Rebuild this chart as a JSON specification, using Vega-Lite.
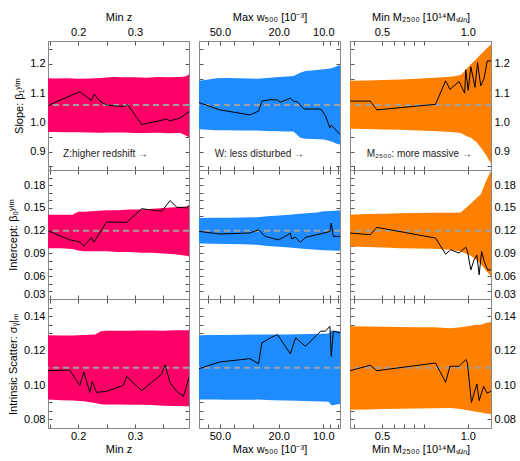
{
"$schema": "https://vega.github.io/schema/vega-lite/v6.json",
"padding": {"left": 7, "top": 10, "right": 2, "bottom": 2},
"background": "white",
"config": {
  "font": "Liberation Sans",
  "view": {"stroke": "#888", "strokeWidth": 1},
  "axis": {"domainColor": "#888", "tickColor": "#555", "tickSize": -4, "labelPadding": 7, "labelFontSize": 11, "titleFontSize": 11, "titleFontWeight": "normal", "labelColor": "#000", "titleColor": "#000", "grid": false, "labelOverlap": false, "labelFlush": false, "titlePadding": 2},
  "axisY": {"titlePadding": 5},
  "axisTop": {"labelPadding": 8, "titlePadding": 4},
  "axisBottom": {"labelPadding": 6, "titlePadding": 2}
},
"datasets": {
"b11": [{"x":0.147,"lo":0.968,"hi":1.151},{"x":0.16,"lo":0.968,"hi":1.15},{"x":0.18,"lo":0.967,"hi":1.151},{"x":0.2,"lo":0.967,"hi":1.149},{"x":0.22,"lo":0.966,"hi":1.15},{"x":0.24,"lo":0.965,"hi":1.152},{"x":0.26,"lo":0.966,"hi":1.155},{"x":0.28,"lo":0.966,"hi":1.154},{"x":0.3,"lo":0.964,"hi":1.154},{"x":0.32,"lo":0.964,"hi":1.153},{"x":0.34,"lo":0.965,"hi":1.155},{"x":0.36,"lo":0.963,"hi":1.154},{"x":0.38,"lo":0.964,"hi":1.155},{"x":0.39,"lo":0.955,"hi":1.158},{"x":0.395,"lo":0.95,"hi":1.165}],
"l11": [{"x":0.147,"y":1.058},{"x":0.203,"y":1.105},{"x":0.2235,"y":1.075},{"x":0.228,"y":1.097},{"x":0.238,"y":1.073},{"x":0.25,"y":1.06},{"x":0.2675,"y":1.056},{"x":0.282,"y":1.055},{"x":0.287,"y":1.061},{"x":0.312,"y":0.993},{"x":0.35,"y":1.009},{"x":0.354,"y":1.012},{"x":0.362,"y":1.006},{"x":0.379,"y":1.015},{"x":0.395,"y":1.037}],
"b21": [{"x":0.147,"lo":0.097,"hi":0.141},{"x":0.17,"lo":0.097,"hi":0.141},{"x":0.19,"lo":0.096,"hi":0.141},{"x":0.2,"lo":0.094,"hi":0.145},{"x":0.21,"lo":0.093,"hi":0.145},{"x":0.23,"lo":0.093,"hi":0.146},{"x":0.25,"lo":0.093,"hi":0.147},{"x":0.27,"lo":0.092,"hi":0.147},{"x":0.29,"lo":0.092,"hi":0.148},{"x":0.31,"lo":0.091,"hi":0.148},{"x":0.33,"lo":0.091,"hi":0.149},{"x":0.35,"lo":0.09,"hi":0.15},{"x":0.37,"lo":0.089,"hi":0.151},{"x":0.39,"lo":0.087,"hi":0.152},{"x":0.395,"lo":0.086,"hi":0.153}],
"l21": [{"x":0.147,"y":0.12},{"x":0.1853,"y":0.108},{"x":0.203,"y":0.105},{"x":0.21,"y":0.1},{"x":0.2235,"y":0.111},{"x":0.2276,"y":0.1046},{"x":0.25,"y":0.1315},{"x":0.2853,"y":0.131},{"x":0.3118,"y":0.149},{"x":0.347,"y":0.1456},{"x":0.3618,"y":0.1597},{"x":0.3735,"y":0.151},{"x":0.391,"y":0.15},{"x":0.395,"y":0.1535}],
"b31": [{"x":0.147,"lo":0.0915,"hi":0.1289},{"x":0.17,"lo":0.0912,"hi":0.1288},{"x":0.19,"lo":0.091,"hi":0.1288},{"x":0.21,"lo":0.0905,"hi":0.129},{"x":0.23,"lo":0.0895,"hi":0.1293},{"x":0.24,"lo":0.0888,"hi":0.1312},{"x":0.25,"lo":0.0887,"hi":0.1315},{"x":0.27,"lo":0.0887,"hi":0.1316},{"x":0.29,"lo":0.0885,"hi":0.1315},{"x":0.31,"lo":0.0885,"hi":0.1317},{"x":0.33,"lo":0.0883,"hi":0.1317},{"x":0.35,"lo":0.088,"hi":0.1316},{"x":0.37,"lo":0.0878,"hi":0.1318},{"x":0.39,"lo":0.0876,"hi":0.1319},{"x":0.395,"lo":0.0876,"hi":0.1318}],
"l31": [{"x":0.147,"y":0.1083},{"x":0.1853,"y":0.1087},{"x":0.203,"y":0.0998},{"x":0.21,"y":0.1076},{"x":0.2206,"y":0.0957},{"x":0.2247,"y":0.1021},{"x":0.2324,"y":0.0957},{"x":0.25,"y":0.0963},{"x":0.2794,"y":0.0998},{"x":0.2853,"y":0.1049},{"x":0.3118,"y":0.0967},{"x":0.347,"y":0.1064},{"x":0.3529,"y":0.1118},{"x":0.3618,"y":0.1012},{"x":0.3735,"y":0.0963},{"x":0.3853,"y":0.0934},{"x":0.395,"y":0.1045}],
"b12": [{"x":69.2,"lo":0.977,"hi":1.142},{"x":60,"lo":0.975,"hi":1.147},{"x":52.7,"lo":0.974,"hi":1.151},{"x":45,"lo":0.974,"hi":1.152},{"x":38,"lo":0.973,"hi":1.151},{"x":32,"lo":0.973,"hi":1.15},{"x":28.1,"lo":0.973,"hi":1.149},{"x":24,"lo":0.971,"hi":1.152},{"x":20,"lo":0.97,"hi":1.155},{"x":17.5,"lo":0.969,"hi":1.157},{"x":15.9,"lo":0.969,"hi":1.159},{"x":14.3,"lo":0.948,"hi":1.17},{"x":13.2,"lo":0.945,"hi":1.176},{"x":11.5,"lo":0.944,"hi":1.178},{"x":9.9,"lo":0.942,"hi":1.182},{"x":8.8,"lo":0.935,"hi":1.185},{"x":8.03,"lo":0.927,"hi":1.193},{"x":7.71,"lo":0.925,"hi":1.195}],
"l12": [{"x":69.2,"y":1.068},{"x":50,"y":1.043},{"x":31.3,"y":1.026},{"x":27.4,"y":1.039},{"x":26.0,"y":1.073},{"x":22.8,"y":1.078},{"x":20.4,"y":1.077},{"x":19.5,"y":1.069},{"x":16.7,"y":1.083},{"x":15.9,"y":1.073},{"x":15.0,"y":1.071},{"x":13.5,"y":1.046},{"x":10.4,"y":1.046},{"x":9.66,"y":1.022},{"x":9.02,"y":0.982},{"x":8.83,"y":0.991},{"x":7.71,"y":0.959}],
"b22": [{"x":69.2,"lo":0.1032,"hi":0.1368},{"x":55,"lo":0.1028,"hi":0.137},{"x":45,"lo":0.1025,"hi":0.1372},{"x":35,"lo":0.102,"hi":0.1374},{"x":28,"lo":0.1015,"hi":0.1376},{"x":24,"lo":0.1,"hi":0.139},{"x":20,"lo":0.099,"hi":0.14},{"x":17,"lo":0.098,"hi":0.141},{"x":15,"lo":0.097,"hi":0.142},{"x":13,"lo":0.096,"hi":0.143},{"x":11,"lo":0.095,"hi":0.144},{"x":9.9,"lo":0.0944,"hi":0.1456},{"x":8.8,"lo":0.094,"hi":0.146},{"x":8.0,"lo":0.0935,"hi":0.1465},{"x":7.71,"lo":0.0935,"hi":0.1465}],
"l22": [{"x":69.2,"y":0.1191},{"x":50,"y":0.1156},{"x":31.3,"y":0.117},{"x":27.4,"y":0.1213},{"x":24.7,"y":0.1125},{"x":20.1,"y":0.108},{"x":17.6,"y":0.1138},{"x":16.7,"y":0.117},{"x":16.4,"y":0.1094},{"x":15.4,"y":0.1112},{"x":14.3,"y":0.1046},{"x":13.2,"y":0.1112},{"x":9.9,"y":0.117},{"x":9.02,"y":0.119},{"x":8.83,"y":0.13},{"x":8.56,"y":0.1125},{"x":7.71,"y":0.1125}],
"b32": [{"x":69.2,"lo":0.0915,"hi":0.1289},{"x":55,"lo":0.0915,"hi":0.129},{"x":45,"lo":0.0914,"hi":0.1291},{"x":35,"lo":0.0914,"hi":0.1292},{"x":28,"lo":0.0915,"hi":0.1293},{"x":22,"lo":0.0912,"hi":0.1293},{"x":18,"lo":0.091,"hi":0.1294},{"x":15,"lo":0.0909,"hi":0.1295},{"x":12,"lo":0.0906,"hi":0.1296},{"x":10,"lo":0.0904,"hi":0.1298},{"x":9.2,"lo":0.0902,"hi":0.13},{"x":8.8,"lo":0.0882,"hi":0.1317},{"x":8.5,"lo":0.0884,"hi":0.1316},{"x":8.0,"lo":0.0888,"hi":0.1314},{"x":7.71,"lo":0.0889,"hi":0.1313}],
"l32": [{"x":69.2,"y":0.1095},{"x":50,"y":0.1134},{"x":31.3,"y":0.1153},{"x":27.4,"y":0.1124},{"x":26.0,"y":0.1245},{"x":22.8,"y":0.1274},{"x":20.4,"y":0.1293},{"x":16.7,"y":0.1181},{"x":15.4,"y":0.1274},{"x":13.2,"y":0.1225},{"x":10.4,"y":0.1313},{"x":9.66,"y":0.1313},{"x":9.02,"y":0.1342},{"x":8.83,"y":0.1167},{"x":8.56,"y":0.1313},{"x":7.71,"y":0.1303}],
"b13": [{"x":0.3865,"lo":0.979,"hi":1.142},{"x":0.443,"lo":0.978,"hi":1.143},{"x":0.507,"lo":0.9765,"hi":1.145},{"x":0.58,"lo":0.975,"hi":1.147},{"x":0.665,"lo":0.973,"hi":1.149},{"x":0.76,"lo":0.971,"hi":1.153},{"x":0.871,"lo":0.968,"hi":1.156},{"x":0.945,"lo":0.964,"hi":1.162},{"x":0.984,"lo":0.955,"hi":1.18},{"x":1.025,"lo":0.948,"hi":1.199},{"x":1.067,"lo":0.935,"hi":1.215},{"x":1.111,"lo":0.915,"hi":1.233},{"x":1.157,"lo":0.89,"hi":1.25},{"x":1.206,"lo":0.86,"hi":1.267}],
"l13": [{"x":0.3865,"y":1.073},{"x":0.455,"y":1.073},{"x":0.48,"y":1.043},{"x":0.771,"y":1.062},{"x":0.836,"y":1.142},{"x":0.866,"y":1.113},{"x":0.932,"y":1.14},{"x":0.975,"y":1.1},{"x":0.984,"y":1.18},{"x":1.003,"y":1.11},{"x":1.025,"y":1.19},{"x":1.06,"y":1.12},{"x":1.082,"y":1.205},{"x":1.11,"y":1.125},{"x":1.14,"y":1.15},{"x":1.17,"y":1.21},{"x":1.206,"y":1.21}],
"b23": [{"x":0.3865,"lo":0.0993,"hi":0.141},{"x":0.443,"lo":0.0985,"hi":0.142},{"x":0.507,"lo":0.0978,"hi":0.1425},{"x":0.58,"lo":0.097,"hi":0.143},{"x":0.665,"lo":0.0965,"hi":0.1434},{"x":0.76,"lo":0.0962,"hi":0.1436},{"x":0.871,"lo":0.095,"hi":0.1438},{"x":0.945,"lo":0.0927,"hi":0.144},{"x":0.984,"lo":0.09,"hi":0.15},{"x":1.025,"lo":0.087,"hi":0.156},{"x":1.067,"lo":0.082,"hi":0.162},{"x":1.111,"lo":0.076,"hi":0.168},{"x":1.157,"lo":0.068,"hi":0.185},{"x":1.206,"lo":0.06,"hi":0.199}],
"l23": [{"x":0.3865,"y":0.1169},{"x":0.455,"y":0.1147},{"x":0.48,"y":0.1244},{"x":0.771,"y":0.1103},{"x":0.836,"y":0.0891},{"x":0.871,"y":0.0949},{"x":0.932,"y":0.0905},{"x":0.984,"y":0.0984},{"x":0.997,"y":0.093},{"x":1.025,"y":0.0684},{"x":1.052,"y":0.0816},{"x":1.076,"y":0.088},{"x":1.096,"y":0.0618},{"x":1.118,"y":0.0927},{"x":1.142,"y":0.0794},{"x":1.173,"y":0.0684},{"x":1.206,"y":0.0684}],
"b33": [{"x":0.3865,"lo":0.0856,"hi":0.1342},{"x":0.443,"lo":0.0858,"hi":0.134},{"x":0.507,"lo":0.086,"hi":0.1338},{"x":0.58,"lo":0.0862,"hi":0.1337},{"x":0.665,"lo":0.0864,"hi":0.1336},{"x":0.76,"lo":0.0865,"hi":0.1336},{"x":0.871,"lo":0.0866,"hi":0.133},{"x":0.945,"lo":0.086,"hi":0.1336},{"x":0.984,"lo":0.0855,"hi":0.134},{"x":1.025,"lo":0.085,"hi":0.1345},{"x":1.067,"lo":0.0845,"hi":0.135},{"x":1.111,"lo":0.084,"hi":0.1351},{"x":1.157,"lo":0.0835,"hi":0.136},{"x":1.206,"lo":0.0831,"hi":0.1367}],
"l33": [{"x":0.3865,"y":0.1083},{"x":0.455,"y":0.1115},{"x":0.48,"y":0.1083},{"x":0.771,"y":0.1128},{"x":0.836,"y":0.1016},{"x":0.866,"y":0.1109},{"x":0.932,"y":0.1109},{"x":0.984,"y":0.1148},{"x":0.997,"y":0.1128},{"x":1.03,"y":0.0899},{"x":1.076,"y":0.1006},{"x":1.096,"y":0.0909},{"x":1.136,"y":0.0992},{"x":1.167,"y":0.0953},{"x":1.206,"y":0.0963}]
},
"columns": 3,
"spacing": {"row": 0, "column": 10},
"bounds": "flush",
"concat": [
{
 "width": 141, "height": 129,
 "resolve": {"axis": {"x": "independent", "y": "independent"}},
 "layer": [
  {"data": {"name": "b11"}, "mark": {"type": "area", "color": "#FF0066", "opacity": 1, "clip": true},
   "encoding": {"x": {"field": "x", "type": "quantitative", "scale": {"domain": [0.147, 0.395], "nice": false, "zero": false}, "axis": {"orient": "bottom", "values": [0.15, 0.2, 0.25, 0.3, 0.35], "labels": false, "title": null}},
    "y": {"field": "lo", "type": "quantitative", "scale": {"domain": [0.838, 1.278], "nice": false, "zero": false}, "axis": {"orient": "left", "values": [0.85, 0.9, 0.95, 1, 1.05, 1.1, 1.15, 1.2, 1.25], "labelExpr": "abs(datum.value*10 - round(datum.value*10)) < 0.001 ? format(datum.value, '.1f') : ''", "title": "Slope: β₁ʸˡᵐ"}},
    "y2": {"field": "hi"}}},
  {"data": {"values": [{}]}, "mark": {"type": "rule", "color": "#A0A0A0", "strokeWidth": 2, "strokeDash": [6, 4]},
   "encoding": {"y": {"datum": 1.06, "type": "quantitative", "scale": {"domain": [0.838, 1.278], "nice": false, "zero": false}, "axis": null}}},
  {"data": {"name": "l11"}, "mark": {"type": "line", "color": "#000", "strokeWidth": 1, "clip": true},
   "encoding": {"x": {"field": "x", "type": "quantitative", "scale": {"domain": [0.147, 0.395], "nice": false, "zero": false}, "axis": {"orient": "top", "values": [0.15, 0.2, 0.25, 0.3, 0.35], "labelExpr": "datum.value == 0.2 || datum.value == 0.3 ? format(datum.value, '.1f') : ''", "title": "Min z"}},
    "y": {"field": "y", "type": "quantitative", "scale": {"domain": [0.838, 1.278], "nice": false, "zero": false}, "axis": {"orient": "right", "values": [0.85, 0.9, 0.95, 1, 1.05, 1.1, 1.15, 1.2, 1.25], "labels": false, "title": null}}}},
  {"data": {"values": [{}]}, "mark": {"type": "text", "text": "Z:higher redshift →", "align": "left", "baseline": "middle", "fontSize": 10, "color": "#222"},
   "encoding": {"x": {"datum": 0.1735, "type": "quantitative", "scale": {"domain": [0.147, 0.395], "nice": false, "zero": false}, "axis": null},
    "y": {"datum": 0.893, "type": "quantitative", "scale": {"domain": [0.838, 1.278], "nice": false, "zero": false}, "axis": null}}}
 ]
},
{
 "width": 141, "height": 129,
 "resolve": {"axis": {"x": "independent", "y": "independent"}},
 "layer": [
  {"data": {"name": "b12"}, "mark": {"type": "area", "color": "#1E8CFF", "opacity": 1, "clip": true},
   "encoding": {"x": {"field": "x", "type": "quantitative", "scale": {"type": "log", "domain": [7.71, 69.2], "reverse": true, "nice": false}, "axis": {"orient": "bottom", "values": [60, 50, 40, 30, 20, 10, 9, 8], "labels": false, "title": null}},
    "y": {"field": "lo", "type": "quantitative", "scale": {"domain": [0.838, 1.278], "nice": false, "zero": false}, "axis": {"orient": "left", "values": [0.85, 0.9, 0.95, 1, 1.05, 1.1, 1.15, 1.2, 1.25], "labels": false, "title": null}},
    "y2": {"field": "hi"}}},
  {"data": {"values": [{}]}, "mark": {"type": "rule", "color": "#A0A0A0", "strokeWidth": 2, "strokeDash": [6, 4]},
   "encoding": {"y": {"datum": 1.06, "type": "quantitative", "scale": {"domain": [0.838, 1.278], "nice": false, "zero": false}, "axis": null}}},
  {"data": {"name": "l12"}, "mark": {"type": "line", "color": "#000", "strokeWidth": 1, "clip": true},
   "encoding": {"x": {"field": "x", "type": "quantitative", "scale": {"type": "log", "domain": [7.71, 69.2], "reverse": true, "nice": false}, "axis": {"orient": "top", "values": [60, 50, 40, 30, 20, 10, 9, 8], "labelExpr": "datum.value == 50 || datum.value == 20 || datum.value == 10 ? format(datum.value, '.1f') : ''", "title": "Max w₅₀₀ [10⁻³]"}},
    "y": {"field": "y", "type": "quantitative", "scale": {"domain": [0.838, 1.278], "nice": false, "zero": false}, "axis": {"orient": "right", "values": [0.85, 0.9, 0.95, 1, 1.05, 1.1, 1.15, 1.2, 1.25], "labels": false, "title": null}}}},
  {"data": {"values": [{}]}, "mark": {"type": "text", "text": "W: less disturbed →", "align": "left", "baseline": "middle", "fontSize": 10, "color": "#222"},
   "encoding": {"x": {"datum": 54.1, "type": "quantitative", "scale": {"type": "log", "domain": [7.71, 69.2], "reverse": true, "nice": false}, "axis": null},
    "y": {"datum": 0.893, "type": "quantitative", "scale": {"domain": [0.838, 1.278], "nice": false, "zero": false}, "axis": null}}}
 ]
},
{
 "width": 141, "height": 129,
 "resolve": {"axis": {"x": "independent", "y": "independent"}},
 "layer": [
  {"data": {"name": "b13"}, "mark": {"type": "area", "color": "#FF8000", "opacity": 1, "clip": true},
   "encoding": {"x": {"field": "x", "type": "quantitative", "scale": {"type": "log", "domain": [0.3865, 1.206], "nice": false}, "axis": {"orient": "bottom", "values": [0.4, 0.5, 0.55, 0.6, 0.65, 0.7, 1], "labels": false, "title": null}},
    "y": {"field": "lo", "type": "quantitative", "scale": {"domain": [0.838, 1.278], "nice": false, "zero": false}, "axis": {"orient": "left", "values": [0.85, 0.9, 0.95, 1, 1.05, 1.1, 1.15, 1.2, 1.25], "labels": false, "title": null}},
    "y2": {"field": "hi"}}},
  {"data": {"values": [{}]}, "mark": {"type": "rule", "color": "#A0A0A0", "strokeWidth": 2, "strokeDash": [6, 4]},
   "encoding": {"y": {"datum": 1.06, "type": "quantitative", "scale": {"domain": [0.838, 1.278], "nice": false, "zero": false}, "axis": null}}},
  {"data": {"name": "l13"}, "mark": {"type": "line", "color": "#000", "strokeWidth": 1, "clip": true},
   "encoding": {"x": {"field": "x", "type": "quantitative", "scale": {"type": "log", "domain": [0.3865, 1.206], "nice": false}, "axis": {"orient": "top", "values": [0.4, 0.5, 0.55, 0.6, 0.65, 0.7, 1], "labelExpr": "datum.value == 0.5 || datum.value == 1 ? format(datum.value, '.1f') : ''", "title": "Min M₂₅₀₀ [10¹⁴Mₛᵤₙ]"}},
    "y": {"field": "y", "type": "quantitative", "scale": {"domain": [0.838, 1.278], "nice": false, "zero": false}, "axis": {"orient": "right", "values": [0.85, 0.9, 0.95, 1, 1.05, 1.1, 1.15, 1.2, 1.25], "labelExpr": "abs(datum.value*10 - round(datum.value*10)) < 0.001 ? format(datum.value, '.1f') : ''", "title": null}}}},
  {"data": {"values": [{}]}, "mark": {"type": "text", "text": "M₂₅₀₀: more massive →", "align": "left", "baseline": "middle", "fontSize": 10, "color": "#222"},
   "encoding": {"x": {"datum": 0.4426, "type": "quantitative", "scale": {"type": "log", "domain": [0.3865, 1.206], "nice": false}, "axis": null},
    "y": {"datum": 0.893, "type": "quantitative", "scale": {"domain": [0.838, 1.278], "nice": false, "zero": false}, "axis": null}}}
 ]
},
{
 "width": 141, "height": 129,
 "resolve": {"axis": {"x": "independent", "y": "independent"}},
 "layer": [
  {"data": {"name": "b21"}, "mark": {"type": "area", "color": "#FF0066", "opacity": 1, "clip": true},
   "encoding": {"x": {"field": "x", "type": "quantitative", "scale": {"domain": [0.147, 0.395], "nice": false, "zero": false}, "axis": {"orient": "bottom", "values": [0.15, 0.2, 0.25, 0.3, 0.35], "labels": false, "title": null}},
    "y": {"field": "lo", "type": "quantitative", "scale": {"domain": [0.03, 0.2], "nice": false, "zero": false}, "axis": {"orient": "left", "values": [0.03, 0.04, 0.05, 0.06, 0.07, 0.08, 0.09, 0.1, 0.11, 0.12, 0.13, 0.14, 0.15, 0.16, 0.17, 0.18, 0.19], "labelFlush": true, "labelExpr": "abs(datum.value*100/3 - round(datum.value*100/3)) < 0.001 ? format(datum.value, '.2f') : ''", "title": "Intercept: β₀ʸˡᵐ"}},
    "y2": {"field": "hi"}}},
  {"data": {"values": [{}]}, "mark": {"type": "rule", "color": "#A0A0A0", "strokeWidth": 2, "strokeDash": [6, 4]},
   "encoding": {"y": {"datum": 0.12, "type": "quantitative", "scale": {"domain": [0.03, 0.2], "nice": false, "zero": false}, "axis": null}}},
  {"data": {"name": "l21"}, "mark": {"type": "line", "color": "#000", "strokeWidth": 1, "clip": true},
   "encoding": {"x": {"field": "x", "type": "quantitative", "scale": {"domain": [0.147, 0.395], "nice": false, "zero": false}, "axis": {"orient": "top", "values": [0.15, 0.2, 0.25, 0.3, 0.35], "labels": false, "title": null}},
    "y": {"field": "y", "type": "quantitative", "scale": {"domain": [0.03, 0.2], "nice": false, "zero": false}, "axis": {"orient": "right", "values": [0.03, 0.04, 0.05, 0.06, 0.07, 0.08, 0.09, 0.1, 0.11, 0.12, 0.13, 0.14, 0.15, 0.16, 0.17, 0.18, 0.19], "labels": false, "title": null}}}}
 ]
},
{
 "width": 141, "height": 129,
 "resolve": {"axis": {"x": "independent", "y": "independent"}},
 "layer": [
  {"data": {"name": "b22"}, "mark": {"type": "area", "color": "#1E8CFF", "opacity": 1, "clip": true},
   "encoding": {"x": {"field": "x", "type": "quantitative", "scale": {"type": "log", "domain": [7.71, 69.2], "reverse": true, "nice": false}, "axis": {"orient": "bottom", "values": [60, 50, 40, 30, 20, 10, 9, 8], "labels": false, "title": null}},
    "y": {"field": "lo", "type": "quantitative", "scale": {"domain": [0.03, 0.2], "nice": false, "zero": false}, "axis": {"orient": "left", "values": [0.03, 0.04, 0.05, 0.06, 0.07, 0.08, 0.09, 0.1, 0.11, 0.12, 0.13, 0.14, 0.15, 0.16, 0.17, 0.18, 0.19], "labels": false, "title": null}},
    "y2": {"field": "hi"}}},
  {"data": {"values": [{}]}, "mark": {"type": "rule", "color": "#A0A0A0", "strokeWidth": 2, "strokeDash": [6, 4]},
   "encoding": {"y": {"datum": 0.12, "type": "quantitative", "scale": {"domain": [0.03, 0.2], "nice": false, "zero": false}, "axis": null}}},
  {"data": {"name": "l22"}, "mark": {"type": "line", "color": "#000", "strokeWidth": 1, "clip": true},
   "encoding": {"x": {"field": "x", "type": "quantitative", "scale": {"type": "log", "domain": [7.71, 69.2], "reverse": true, "nice": false}, "axis": {"orient": "top", "values": [60, 50, 40, 30, 20, 10, 9, 8], "labels": false, "title": null}},
    "y": {"field": "y", "type": "quantitative", "scale": {"domain": [0.03, 0.2], "nice": false, "zero": false}, "axis": {"orient": "right", "values": [0.03, 0.04, 0.05, 0.06, 0.07, 0.08, 0.09, 0.1, 0.11, 0.12, 0.13, 0.14, 0.15, 0.16, 0.17, 0.18, 0.19], "labels": false, "title": null}}}}
 ]
},
{
 "width": 141, "height": 129,
 "resolve": {"axis": {"x": "independent", "y": "independent"}},
 "layer": [
  {"data": {"name": "b23"}, "mark": {"type": "area", "color": "#FF8000", "opacity": 1, "clip": true},
   "encoding": {"x": {"field": "x", "type": "quantitative", "scale": {"type": "log", "domain": [0.3865, 1.206], "nice": false}, "axis": {"orient": "bottom", "values": [0.4, 0.5, 0.55, 0.6, 0.65, 0.7, 1], "labels": false, "title": null}},
    "y": {"field": "lo", "type": "quantitative", "scale": {"domain": [0.03, 0.2], "nice": false, "zero": false}, "axis": {"orient": "left", "values": [0.03, 0.04, 0.05, 0.06, 0.07, 0.08, 0.09, 0.1, 0.11, 0.12, 0.13, 0.14, 0.15, 0.16, 0.17, 0.18, 0.19], "labels": false, "title": null}},
    "y2": {"field": "hi"}}},
  {"data": {"values": [{}]}, "mark": {"type": "rule", "color": "#A0A0A0", "strokeWidth": 2, "strokeDash": [6, 4]},
   "encoding": {"y": {"datum": 0.12, "type": "quantitative", "scale": {"domain": [0.03, 0.2], "nice": false, "zero": false}, "axis": null}}},
  {"data": {"name": "l23"}, "mark": {"type": "line", "color": "#000", "strokeWidth": 1, "clip": true},
   "encoding": {"x": {"field": "x", "type": "quantitative", "scale": {"type": "log", "domain": [0.3865, 1.206], "nice": false}, "axis": {"orient": "top", "values": [0.4, 0.5, 0.55, 0.6, 0.65, 0.7, 1], "labels": false, "title": null}},
    "y": {"field": "y", "type": "quantitative", "scale": {"domain": [0.03, 0.2], "nice": false, "zero": false}, "axis": {"orient": "right", "values": [0.03, 0.04, 0.05, 0.06, 0.07, 0.08, 0.09, 0.1, 0.11, 0.12, 0.13, 0.14, 0.15, 0.16, 0.17, 0.18, 0.19], "labelFlush": true, "labelExpr": "abs(datum.value*100/3 - round(datum.value*100/3)) < 0.001 ? format(datum.value, '.2f') : ''", "title": null}}}}
 ]
},
{
 "width": 141, "height": 129,
 "resolve": {"axis": {"x": "independent", "y": "independent"}},
 "layer": [
  {"data": {"name": "b31"}, "mark": {"type": "area", "color": "#FF0066", "opacity": 1, "clip": true},
   "encoding": {"x": {"field": "x", "type": "quantitative", "scale": {"domain": [0.147, 0.395], "nice": false, "zero": false}, "axis": {"orient": "bottom", "values": [0.15, 0.2, 0.25, 0.3, 0.35], "labelExpr": "datum.value == 0.2 || datum.value == 0.3 ? format(datum.value, '.1f') : ''", "title": "Min z"}},
    "y": {"field": "lo", "type": "quantitative", "scale": {"domain": [0.075, 0.15], "nice": false, "zero": false}, "axis": {"orient": "left", "values": [0.08, 0.085, 0.09, 0.095, 0.1, 0.105, 0.11, 0.115, 0.12, 0.125, 0.13, 0.135, 0.14, 0.145], "labelExpr": "abs(datum.value*50 - round(datum.value*50)) < 0.001 ? format(datum.value, '.2f') : ''", "title": "Intrinsic Scatter: σᵧ|ₘ"}},
    "y2": {"field": "hi"}}},
  {"data": {"values": [{}]}, "mark": {"type": "rule", "color": "#A0A0A0", "strokeWidth": 2, "strokeDash": [6, 4]},
   "encoding": {"y": {"datum": 0.11, "type": "quantitative", "scale": {"domain": [0.075, 0.15], "nice": false, "zero": false}, "axis": null}}},
  {"data": {"name": "l31"}, "mark": {"type": "line", "color": "#000", "strokeWidth": 1, "clip": true},
   "encoding": {"x": {"field": "x", "type": "quantitative", "scale": {"domain": [0.147, 0.395], "nice": false, "zero": false}, "axis": {"orient": "top", "values": [0.15, 0.2, 0.25, 0.3, 0.35], "labels": false, "title": null}},
    "y": {"field": "y", "type": "quantitative", "scale": {"domain": [0.075, 0.15], "nice": false, "zero": false}, "axis": {"orient": "right", "values": [0.08, 0.085, 0.09, 0.095, 0.1, 0.105, 0.11, 0.115, 0.12, 0.125, 0.13, 0.135, 0.14, 0.145], "labels": false, "title": null}}}}
 ]
},
{
 "width": 141, "height": 129,
 "resolve": {"axis": {"x": "independent", "y": "independent"}},
 "layer": [
  {"data": {"name": "b32"}, "mark": {"type": "area", "color": "#1E8CFF", "opacity": 1, "clip": true},
   "encoding": {"x": {"field": "x", "type": "quantitative", "scale": {"type": "log", "domain": [7.71, 69.2], "reverse": true, "nice": false}, "axis": {"orient": "bottom", "values": [60, 50, 40, 30, 20, 10, 9, 8], "labelExpr": "datum.value == 50 || datum.value == 20 || datum.value == 10 ? format(datum.value, '.1f') : ''", "title": "Max w₅₀₀ [10⁻³]"}},
    "y": {"field": "lo", "type": "quantitative", "scale": {"domain": [0.075, 0.15], "nice": false, "zero": false}, "axis": {"orient": "left", "values": [0.08, 0.085, 0.09, 0.095, 0.1, 0.105, 0.11, 0.115, 0.12, 0.125, 0.13, 0.135, 0.14, 0.145], "labels": false, "title": null}},
    "y2": {"field": "hi"}}},
  {"data": {"values": [{}]}, "mark": {"type": "rule", "color": "#A0A0A0", "strokeWidth": 2, "strokeDash": [6, 4]},
   "encoding": {"y": {"datum": 0.11, "type": "quantitative", "scale": {"domain": [0.075, 0.15], "nice": false, "zero": false}, "axis": null}}},
  {"data": {"name": "l32"}, "mark": {"type": "line", "color": "#000", "strokeWidth": 1, "clip": true},
   "encoding": {"x": {"field": "x", "type": "quantitative", "scale": {"type": "log", "domain": [7.71, 69.2], "reverse": true, "nice": false}, "axis": {"orient": "top", "values": [60, 50, 40, 30, 20, 10, 9, 8], "labels": false, "title": null}},
    "y": {"field": "y", "type": "quantitative", "scale": {"domain": [0.075, 0.15], "nice": false, "zero": false}, "axis": {"orient": "right", "values": [0.08, 0.085, 0.09, 0.095, 0.1, 0.105, 0.11, 0.115, 0.12, 0.125, 0.13, 0.135, 0.14, 0.145], "labels": false, "title": null}}}}
 ]
},
{
 "width": 141, "height": 129,
 "resolve": {"axis": {"x": "independent", "y": "independent"}},
 "layer": [
  {"data": {"name": "b33"}, "mark": {"type": "area", "color": "#FF8000", "opacity": 1, "clip": true},
   "encoding": {"x": {"field": "x", "type": "quantitative", "scale": {"type": "log", "domain": [0.3865, 1.206], "nice": false}, "axis": {"orient": "bottom", "values": [0.4, 0.5, 0.55, 0.6, 0.65, 0.7, 1], "labelExpr": "datum.value == 0.5 || datum.value == 1 ? format(datum.value, '.1f') : ''", "title": "Min M₂₅₀₀ [10¹⁴Mₛᵤₙ]"}},
    "y": {"field": "lo", "type": "quantitative", "scale": {"domain": [0.075, 0.15], "nice": false, "zero": false}, "axis": {"orient": "left", "values": [0.08, 0.085, 0.09, 0.095, 0.1, 0.105, 0.11, 0.115, 0.12, 0.125, 0.13, 0.135, 0.14, 0.145], "labels": false, "title": null}},
    "y2": {"field": "hi"}}},
  {"data": {"values": [{}]}, "mark": {"type": "rule", "color": "#A0A0A0", "strokeWidth": 2, "strokeDash": [6, 4]},
   "encoding": {"y": {"datum": 0.11, "type": "quantitative", "scale": {"domain": [0.075, 0.15], "nice": false, "zero": false}, "axis": null}}},
  {"data": {"name": "l33"}, "mark": {"type": "line", "color": "#000", "strokeWidth": 1, "clip": true},
   "encoding": {"x": {"field": "x", "type": "quantitative", "scale": {"type": "log", "domain": [0.3865, 1.206], "nice": false}, "axis": {"orient": "top", "values": [0.4, 0.5, 0.55, 0.6, 0.65, 0.7, 1], "labels": false, "title": null}},
    "y": {"field": "y", "type": "quantitative", "scale": {"domain": [0.075, 0.15], "nice": false, "zero": false}, "axis": {"orient": "right", "values": [0.08, 0.085, 0.09, 0.095, 0.1, 0.105, 0.11, 0.115, 0.12, 0.125, 0.13, 0.135, 0.14, 0.145], "labelExpr": "abs(datum.value*50 - round(datum.value*50)) < 0.001 ? format(datum.value, '.2f') : ''", "title": null}}}}
 ]
}
]
}
